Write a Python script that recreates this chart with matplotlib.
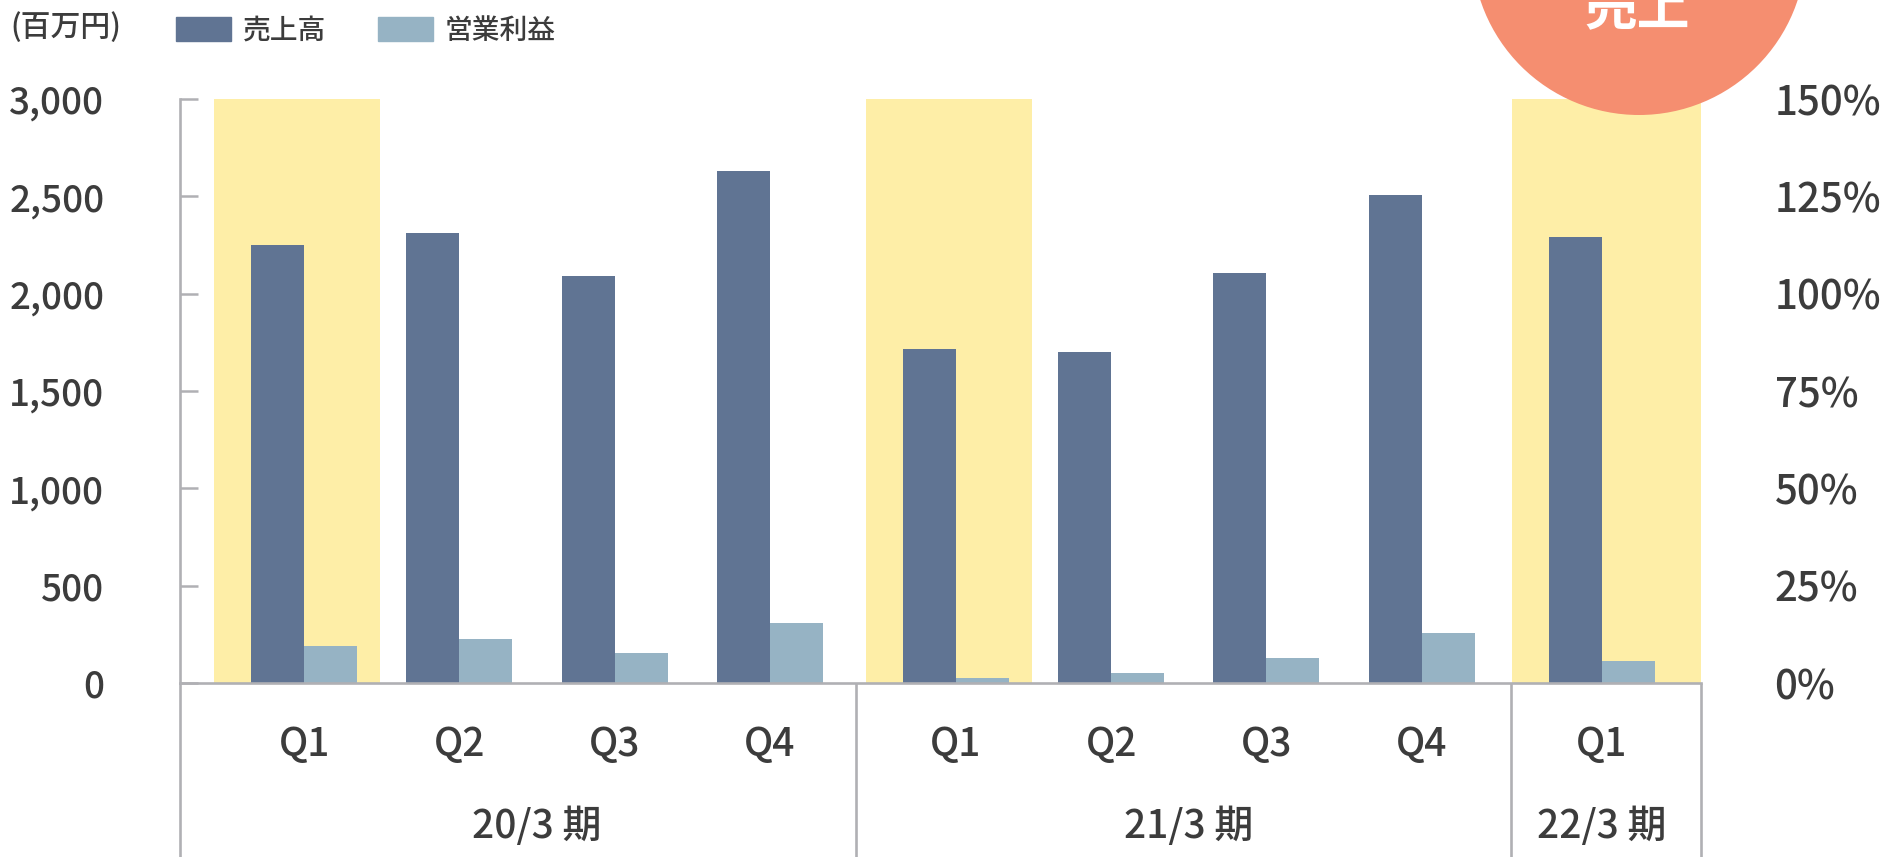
import matplotlib
matplotlib.use('Agg')
import matplotlib.pyplot as plt
from matplotlib.patches import Circle, Patch
import numpy as np

plt.rcParams['font.family'] = ['Noto Sans CJK JP', 'DejaVu Sans']
plt.rcParams['font.weight'] = 'medium'

# ---- data ----
quarters = ['Q1', 'Q2', 'Q3', 'Q4', 'Q1', 'Q2', 'Q3', 'Q4', 'Q1']
periods = ['20/3 期', '21/3 期', '22/3 期']
period_of = [0, 0, 0, 0, 1, 1, 1, 1, 2]
sales = [2250, 2310, 2090, 2630, 1715, 1700, 2105, 2505, 2290]
op_profit = [190, 226, 154, 308, 26, 51, 128, 257, 113]
highlight = [True, False, False, False, True, False, False, False, True]
y_ticks = [0, 500, 1000, 1500, 2000, 2500, 3000]
pct_ticks = [0, 25, 50, 75, 100, 125, 150]
series_names = ['売上高', '営業利益']
unit_label = '(百万円)'
badge_text = '売上'

# ---- style ----
C_SALES = '#607493'
C_OP = '#96b3c4'
C_HL = '#feeea7'
C_BADGE = '#f58e70'
C_AXIS = '#b0b0b4'
C_TEXT = '#3c3c3c'

W, H = 1886, 857
fig = plt.figure(figsize=(W / 100, H / 100), dpi=100)

x = np.array([0, 1, 2, 3, 4.2, 5.2, 6.2, 7.2, 8.36])
XMIN, XMAX = -0.8, 9.0
bw = 0.3415

ax = fig.add_axes([180 / W, 1 - 683 / H, (1701 - 180) / W, (683 - 99) / H])
ax.set_xlim(XMIN, XMAX)
ax.set_ylim(0, 3000)

# highlight bands
for i, h in enumerate(highlight):
    if h:
        left = x[i] - 0.58
        right = XMAX if i == len(x) - 1 else x[i] + 0.49
        ax.axvspan(left, right, color=C_HL, lw=0, zorder=0)

ax.bar(x - bw / 2, sales, width=bw, color=C_SALES, zorder=2, label=series_names[0])
ax.bar(x + bw / 2, op_profit, width=bw, color=C_OP, zorder=2, label=series_names[1])

# spines
for s in ['top', 'right']:
    ax.spines[s].set_visible(False)
for s in ['left', 'bottom']:
    ax.spines[s].set_color(C_AXIS)
    ax.spines[s].set_linewidth(1.9)
    ax.spines[s].set_zorder(3)

ax.set_yticks(y_ticks, labels=[f'{v:,}' for v in y_ticks])
ax.tick_params(axis='y', direction='in', length=13, width=1.8, color=C_AXIS,
               pad=54.5, labelsize=26.5, labelcolor=C_TEXT)
ax.set_xticks(x, labels=quarters)
ax.tick_params(axis='x', length=0, pad=30, labelsize=28, labelcolor=C_TEXT)

# group dividers (extend below axis)
xt = ax.get_xaxis_transform()
bounds = [XMIN, x[3] + 0.555, x[7] + 0.575, XMAX]
for b in bounds:
    ax.plot([b, b], [0, -0.35], transform=xt, color=C_AXIS, lw=1.9,
            clip_on=False, zorder=3, solid_capstyle='butt')

# group labels
for g, name in enumerate(periods):
    gx = np.mean([x[i] for i in range(len(x)) if period_of[i] == g])
    ax.text(gx, -0.247, name, transform=xt, ha='center', va='center',
            fontsize=28, color=C_TEXT)

# right axis
ax2 = ax.twinx()
ax2.set_ylim(0, 150)
ax2.set_yticks(pct_ticks, labels=[f'{v}%' for v in pct_ticks])
ax2.tick_params(axis='y', length=0, pad=53, labelsize=29, labelcolor=C_TEXT)
for s in ax2.spines.values():
    s.set_visible(False)

# legend & unit
handles = [Patch(color=C_SALES), Patch(color=C_OP)]
fig.legend(handles, series_names, loc='center left', bbox_to_anchor=(176 / W, 1 - 30 / H),
           ncol=2, frameon=False, fontsize=20, handlelength=1.98, handleheight=0.94,
           handletextpad=0.43, columnspacing=1.87, borderpad=0, borderaxespad=0,
           labelcolor=C_TEXT)
fig.text(10 / W, 1 - 27 / H, unit_label, ha='left', va='center', fontsize=21.5, color=C_TEXT)

# badge overlay
ov = fig.add_axes([0, 0, 1, 1], zorder=5)
ov.set_xlim(0, W)
ov.set_ylim(H, 0)
ov.axis('off')
ov.patch.set_alpha(0)
ov.add_patch(Circle((1639, -52), 167, color=C_BADGE, lw=0))
ov.text(1637, 25, badge_text, ha='center', va='baseline', fontsize=38,
        fontweight='bold', color='white')

fig.savefig('out.png', dpi=100)
